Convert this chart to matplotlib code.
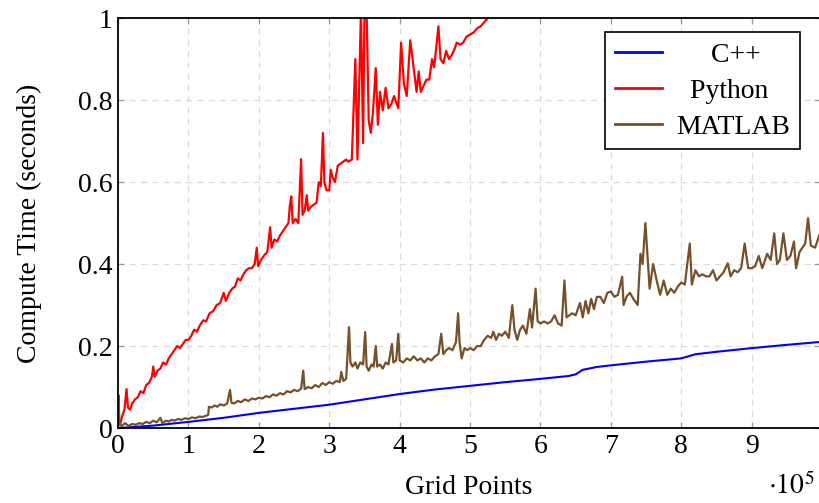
import numpy as np
import matplotlib
matplotlib.use('Agg')
import matplotlib.pyplot as plt
from matplotlib.ticker import FuncFormatter

# grid points in units of 1e5, compute times in seconds
cpp_x = [0.0, 0.5, 1.0, 1.5, 2.0, 2.5, 3.0, 3.5, 4.0, 4.5, 5.0, 5.5, 6.0,
         6.4, 6.5, 6.6, 6.8, 7.0, 7.5, 8.0, 8.2, 8.5, 9.0, 9.5, 9.97]
cpp_y = [0.0, 0.006, 0.015, 0.025, 0.037, 0.047, 0.057, 0.07, 0.083, 0.094,
         0.103, 0.112, 0.12, 0.127, 0.131, 0.142, 0.149, 0.153, 0.162, 0.17,
         0.18, 0.186, 0.195, 0.203, 0.21]

py_x = [0.00, 0.03, 0.06, 0.09, 0.12, 0.14, 0.17, 0.20, 0.24, 0.28, 0.32, 0.36,
        0.40, 0.44, 0.48, 0.50, 0.52, 0.56, 0.60, 0.64, 0.68, 0.72, 0.76, 0.80,
        0.84, 0.88, 0.92, 0.96, 1.00, 1.04, 1.08, 1.12, 1.16, 1.21, 1.25, 1.30,
        1.35, 1.40, 1.45, 1.50, 1.53, 1.58, 1.62, 1.66, 1.70, 1.74, 1.78, 1.82,
        1.86, 1.90, 1.94, 1.97, 1.99, 2.03, 2.07, 2.12, 2.16, 2.18, 2.22, 2.26,
        2.30, 2.34, 2.38, 2.42, 2.44, 2.46, 2.48, 2.52, 2.56, 2.60, 2.62, 2.65,
        2.68, 2.70, 2.74, 2.78, 2.82, 2.85, 2.88, 2.91, 2.93, 2.96, 3.00, 3.02,
        3.05, 3.08, 3.12, 3.16, 3.20, 3.24, 3.27, 3.32, 3.37, 3.40, 3.45, 3.48,
        3.50, 3.53, 3.56, 3.59, 3.62, 3.66, 3.69, 3.72, 3.76, 3.80, 3.84, 3.88,
        3.92, 3.98, 4.02, 4.06, 4.10, 4.15, 4.19, 4.24, 4.27, 4.30, 4.34, 4.38,
        4.42, 4.46, 4.49, 4.55, 4.58, 4.62, 4.66, 4.70, 4.74, 4.78, 4.81, 4.86,
        4.90, 4.95, 5.00, 5.05, 5.10, 5.15, 5.20, 5.25, 5.30, 5.40]
py_y = [0.015, 0.01, 0.03, 0.045, 0.095, 0.05, 0.045, 0.06, 0.07, 0.075, 0.09, 0.085,
        0.105, 0.11, 0.125, 0.15, 0.125, 0.14, 0.145, 0.16, 0.155, 0.17, 0.18, 0.19,
        0.2, 0.195, 0.205, 0.215, 0.215, 0.225, 0.24, 0.235, 0.25, 0.263, 0.26, 0.28,
        0.285, 0.30, 0.305, 0.33, 0.31, 0.33, 0.34, 0.345, 0.365, 0.36, 0.375, 0.385,
        0.39, 0.39, 0.40, 0.44, 0.395, 0.41, 0.42, 0.43, 0.49, 0.44, 0.46, 0.455,
        0.47, 0.48, 0.49, 0.50, 0.543, 0.565, 0.50, 0.51, 0.50, 0.656, 0.52, 0.53,
        0.568, 0.53, 0.54, 0.545, 0.55, 0.60, 0.59, 0.72, 0.60, 0.58, 0.58, 0.63,
        0.61, 0.60, 0.64, 0.645, 0.65, 0.655, 0.65, 0.655, 0.90, 0.655, 1.02, 0.695,
        1.02, 1.02, 0.75, 0.72, 0.77, 0.878, 0.74, 0.82, 0.775, 0.83, 0.78, 0.79,
        0.81, 0.78, 0.94, 0.84, 0.81, 0.946, 0.89, 0.82, 0.87, 0.82, 0.835, 0.85,
        0.85, 0.90, 0.88, 0.98, 0.90, 0.89, 0.92, 0.90, 0.91, 0.925, 0.94, 0.935,
        0.94, 0.955, 0.96, 0.965, 0.975, 0.98, 0.99, 1.0, 1.01, 1.03]

ml_x = [0.00, 0.005, 0.02, 0.05, 0.10, 0.15, 0.20, 0.25, 0.30, 0.35, 0.40, 0.45,
        0.50, 0.55, 0.60, 0.63, 0.68, 0.72, 0.76, 0.80, 0.85, 0.90, 0.95, 1.00,
        1.05, 1.10, 1.15, 1.20, 1.25, 1.28, 1.29, 1.33, 1.37, 1.41, 1.45, 1.50,
        1.55, 1.59, 1.61, 1.65, 1.70, 1.75, 1.80, 1.85, 1.90, 1.95, 2.00, 2.05,
        2.10, 2.15, 2.20, 2.25, 2.30, 2.35, 2.40, 2.45, 2.50, 2.55, 2.60, 2.63,
        2.65, 2.70, 2.75, 2.80, 2.85, 2.90, 2.95, 3.00, 3.05, 3.10, 3.15, 3.17,
        3.20, 3.24, 3.28, 3.30, 3.33, 3.37, 3.40, 3.44, 3.48, 3.51, 3.53, 3.56,
        3.60, 3.63, 3.66, 3.68, 3.72, 3.76, 3.80, 3.84, 3.89, 3.91, 3.95, 3.98,
        4.00, 4.05, 4.10, 4.15, 4.20, 4.25, 4.30, 4.35, 4.40, 4.45, 4.50, 4.55,
        4.59, 4.62, 4.66, 4.70, 4.75, 4.80, 4.83, 4.85, 4.88, 4.92, 4.96, 5.00,
        5.05, 5.10, 5.15, 5.20, 5.25, 5.30, 5.33, 5.37, 5.41, 5.45, 5.50, 5.55,
        5.60, 5.63, 5.67, 5.71, 5.75, 5.80, 5.85, 5.88, 5.93, 5.96, 6.00, 6.05,
        6.10, 6.15, 6.20, 6.25, 6.30, 6.34, 6.37, 6.41, 6.45, 6.50, 6.56, 6.60,
        6.64, 6.68, 6.72, 6.76, 6.80, 6.85, 6.90, 6.95, 7.00, 7.05, 7.10, 7.16,
        7.18, 7.22, 7.27, 7.32, 7.38, 7.42, 7.45, 7.49, 7.52, 7.55, 7.60, 7.65,
        7.70, 7.75, 7.80, 7.85, 7.90, 7.95, 8.00, 8.05, 8.12, 8.15, 8.20, 8.25,
        8.30, 8.35, 8.40, 8.45, 8.50, 8.55, 8.60, 8.66, 8.70, 8.75, 8.80, 8.85,
        8.90, 8.95, 9.00, 9.05, 9.10, 9.15, 9.22, 9.27, 9.32, 9.36, 9.40, 9.45,
        9.50, 9.55, 9.60, 9.63, 9.68, 9.72, 9.76, 9.80, 9.84, 9.90, 9.97]
ml_y = [0.0, 0.08, 0.01, 0.005, 0.012, 0.005, 0.01, 0.008, 0.012, 0.01, 0.015, 0.012,
        0.018, 0.014, 0.025, 0.012, 0.018, 0.016, 0.02, 0.018, 0.022, 0.02, 0.024, 0.022,
        0.026, 0.024, 0.028, 0.027, 0.03, 0.032, 0.052, 0.05, 0.055, 0.052, 0.058, 0.055,
        0.06, 0.093, 0.062, 0.06, 0.066, 0.063, 0.07, 0.066, 0.072, 0.07, 0.074, 0.072,
        0.078, 0.075, 0.082, 0.079, 0.085, 0.082, 0.09, 0.087, 0.093, 0.09, 0.096, 0.14,
        0.095, 0.1, 0.097, 0.105, 0.1, 0.11, 0.105, 0.112, 0.108, 0.115, 0.112, 0.137,
        0.115, 0.12, 0.246, 0.16, 0.15, 0.16, 0.145, 0.16, 0.155, 0.234, 0.15, 0.14,
        0.155, 0.15, 0.20, 0.15, 0.155, 0.145, 0.16, 0.155, 0.205, 0.16, 0.165, 0.23,
        0.165, 0.16, 0.17, 0.165, 0.175, 0.165, 0.17, 0.16, 0.17, 0.165, 0.175, 0.18,
        0.23, 0.18, 0.19, 0.195, 0.19, 0.21, 0.28, 0.21, 0.17, 0.195, 0.19, 0.195,
        0.19, 0.20, 0.2, 0.215, 0.225, 0.22, 0.235, 0.215, 0.23, 0.225, 0.235, 0.22,
        0.30, 0.24, 0.215, 0.24, 0.25, 0.23, 0.29, 0.245, 0.34, 0.26, 0.255, 0.26,
        0.255, 0.26, 0.275, 0.255, 0.25, 0.36, 0.27, 0.275, 0.28, 0.275, 0.305, 0.27,
        0.31, 0.28, 0.315, 0.29, 0.32, 0.32, 0.305, 0.33, 0.333, 0.32, 0.325, 0.369,
        0.30, 0.32, 0.33, 0.315, 0.30, 0.425, 0.40, 0.50, 0.42, 0.34, 0.40, 0.36,
        0.325, 0.36, 0.325, 0.34, 0.33, 0.345, 0.355, 0.35, 0.45, 0.35, 0.385, 0.37,
        0.375, 0.37, 0.37, 0.385, 0.36, 0.37, 0.38, 0.402, 0.37, 0.385, 0.38, 0.39,
        0.45, 0.39, 0.39, 0.395, 0.42, 0.39, 0.425, 0.41, 0.475, 0.40, 0.41, 0.475,
        0.41, 0.42, 0.455, 0.39, 0.43, 0.44, 0.45, 0.512, 0.445, 0.44, 0.475]

x_ticks = [0, 1, 2, 3, 4, 5, 6, 7, 8, 9]
y_ticks = [0, 0.2, 0.4, 0.6, 0.8, 1.0]

plt.rcParams['font.family'] = ['Liberation Serif', 'DejaVu Serif']
plt.rcParams['mathtext.fontset'] = 'stix'

fig = plt.figure(figsize=(8.2, 5.03), dpi=100)
ax = fig.add_axes([0.144, 0.149, 0.856, 0.815])

scale = 1e5
l1, = ax.plot(np.array(cpp_x) * scale, cpp_y, color='#0000ff', lw=1.5)
l2, = ax.plot(np.array(py_x) * scale, py_y, color='#ff0000', lw=1.6)
l3, = ax.plot(np.array(ml_x) * scale, ml_y, color='#76502a', lw=1.6)

ax.set_xlim(0, 9.97e5)
ax.set_ylim(0, 1)
ax.set_xticks(np.array(x_ticks) * scale)
ax.set_yticks(y_ticks)
ax.xaxis.set_major_formatter(FuncFormatter(lambda v, p: '%d' % round(v / scale)))
ax.yaxis.set_major_formatter(FuncFormatter(lambda v, p: '%g' % v))

ax.grid(True, color='#dcdcdc', lw=0.9, linestyle=(0, (5, 4)))
ax.set_axisbelow(True)
ax.tick_params(direction='in', length=4, width=0.9, color='#999999',
               top=True, right=True, labelsize=20, pad=4)
for s in ax.spines.values():
    s.set_linewidth(1.3)
    s.set_color('black')

ax.set_ylabel('Compute Time (seconds)', fontsize=20, labelpad=26)
ax.set_xlabel('Grid Points', fontsize=20, labelpad=12)
fig.text(0.994, 0.006, r'$\cdot10^{5}$', fontsize=20, ha='right', va='bottom')

# labels padded with spaces so they sit roughly centred like the original
leg = ax.legend([l1, l2, l3], ['     C++', '  Python', 'MATLAB'],
                loc='upper right', bbox_to_anchor=(0.971, 0.965), fontsize=20,
                fancybox=False, edgecolor='black', framealpha=1,
                handlelength=1.7, handletextpad=0.5, borderpad=0.35,
                labelspacing=0.38, borderaxespad=0)
leg.get_frame().set_linewidth(1.2)
for line in leg.get_lines():
    line.set_linewidth(2.0)

fig.savefig('out.png', dpi=100)
